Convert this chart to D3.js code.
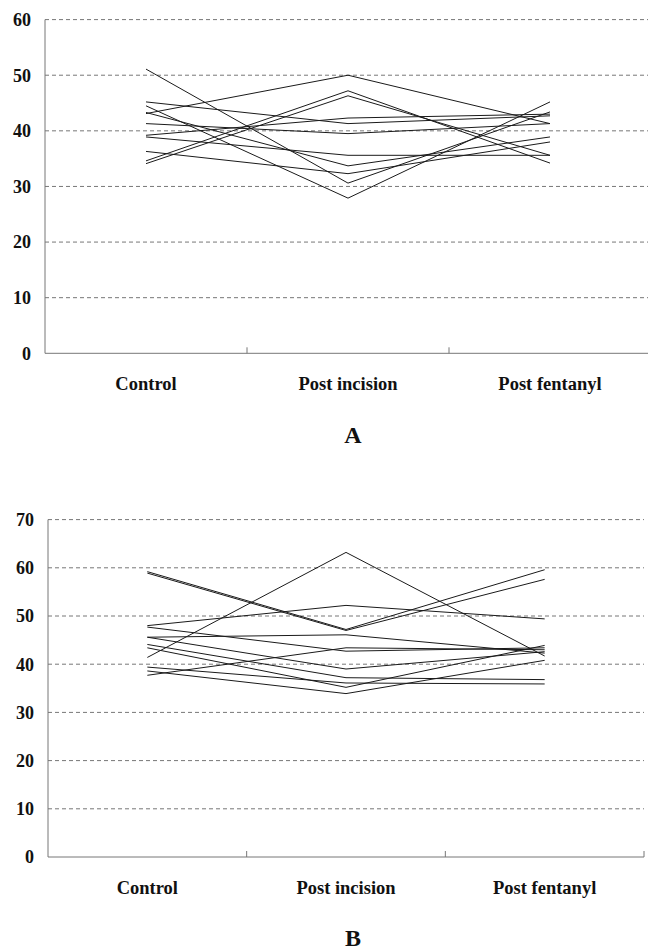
<!DOCTYPE html>
<html>
<head>
<meta charset="utf-8">
<script src="https://cdn.jsdelivr.net/npm/d3@7"></script>
<style>
  body { margin: 0; background: #fff; }
  svg { display: block; }
  text { font-family: "Liberation Serif", "Times New Roman", serif; font-weight: bold; fill: #111; }
</style>
</head>
<body>
<script>
// categories on the x axis
var categories = ['Control', 'Post incision', 'Post fentanyl'];

// panel A: one row per subject (control, post incision, post fentanyl)
var seriesA = [
  [51.1, 30.6, 43.4],
  [45.2, 41.3, 42.7],
  [44.5, 27.9, 45.2],
  [43.1, 50.0, 41.3],
  [43.3, 33.7, 38.9],
  [41.3, 39.5, 41.3],
  [39.2, 42.3, 43.0],
  [38.9, 35.6, 35.6],
  [36.3, 32.3, 38.0],
  [34.6, 47.2, 34.2],
  [34.1, 46.3, 35.6]
];
var ticksA = [0, 10, 20, 30, 40, 50, 60];

// panel B
var seriesB = [
  [59.2, 47.2, 59.6],
  [58.9, 47.0, 57.6],
  [48.0, 52.2, 49.4],
  [47.7, 42.7, 43.4],
  [45.6, 46.1, 42.3],
  [45.6, 39.0, 42.6],
  [44.1, 37.2, 36.8],
  [43.4, 35.2, 43.9],
  [41.4, 63.2, 41.7],
  [39.4, 36.1, 35.9],
  [38.6, 33.9, 40.8],
  [37.7, 43.4, 43.0]
];
var ticksB = [0, 10, 20, 30, 40, 50, 60, 70];

var svg = d3.select('body').append('svg')
  .attr('width', 648)
  .attr('height', 952);

// draw one panel
var drawPanel = function(opts){
  var g = svg.append('g');
  var x = d3.scaleBand().domain(categories).range([opts.left, opts.right]).padding(0);
  var y = d3.scaleLinear().domain([0, opts.max]).range([opts.bottom, opts.top]);

  // dashed gridlines
  g.selectAll('line.grid').data(opts.ticks.filter(function(d){ return d > 0; }))
    .enter().append('line')
    .attr('x1', opts.left).attr('x2', opts.right)
    .attr('y1', function(d){ return y(d); }).attr('y2', function(d){ return y(d); })
    .attr('stroke', '#777').attr('stroke-width', 1)
    .attr('stroke-dasharray', '4,3');

  // left axis line
  g.append('line')
    .attr('x1', opts.left).attr('x2', opts.left)
    .attr('y1', y(opts.max)).attr('y2', y(0))
    .attr('stroke', '#777');

  // bottom axis line + inner ticks at band edges
  g.append('line')
    .attr('x1', opts.left).attr('x2', opts.right)
    .attr('y1', y(0)).attr('y2', y(0))
    .attr('stroke', '#777');
  g.selectAll('line.xt').data(categories)
    .enter().append('line')
    .attr('x1', function(d){ return x(d) + x.bandwidth(); })
    .attr('x2', function(d){ return x(d) + x.bandwidth(); })
    .attr('y1', y(0)).attr('y2', y(0) - 6)
    .attr('stroke', '#777');

  // y tick labels
  g.selectAll('text.yl').data(opts.ticks)
    .enter().append('text')
    .attr('x', opts.left - 14)
    .attr('y', function(d){ return y(d); })
    .attr('dy', '0.35em')
    .attr('text-anchor', 'end')
    .style('font-size', '18px')
    .text(function(d){ return d; });

  // category labels
  g.selectAll('text.xl').data(categories)
    .enter().append('text')
    .attr('x', function(d){ return x(d) + x.bandwidth() / 2; })
    .attr('y', opts.labelY)
    .attr('text-anchor', 'middle')
    .style('font-size', '18.5px')
    .text(function(d){ return d; });

  // subject lines
  var line = d3.line()
    .x(function(d, i){ return x(categories[i]) + x.bandwidth() / 2; })
    .y(function(d){ return y(d); });
  g.selectAll('path.s').data(opts.data)
    .enter().append('path')
    .attr('d', line)
    .attr('fill', 'none')
    .attr('stroke', '#1a1a1a')
    .attr('stroke-width', 1);

  // panel letter
  g.append('text')
    .attr('x', 353).attr('y', opts.letterY)
    .attr('text-anchor', 'middle')
    .style('font-size', '24px')
    .text(opts.letter);
};

drawPanel({data: seriesA, ticks: ticksA, max: 60, left: 45, right: 651, top: 19.6, bottom: 353.3, labelY: 390, letter: 'A', letterY: 443});
drawPanel({data: seriesB, ticks: ticksB, max: 70, left: 48, right: 644, top: 519.6, bottom: 857, labelY: 894, letter: 'B', letterY: 946});
</script>
</body>
</html>
